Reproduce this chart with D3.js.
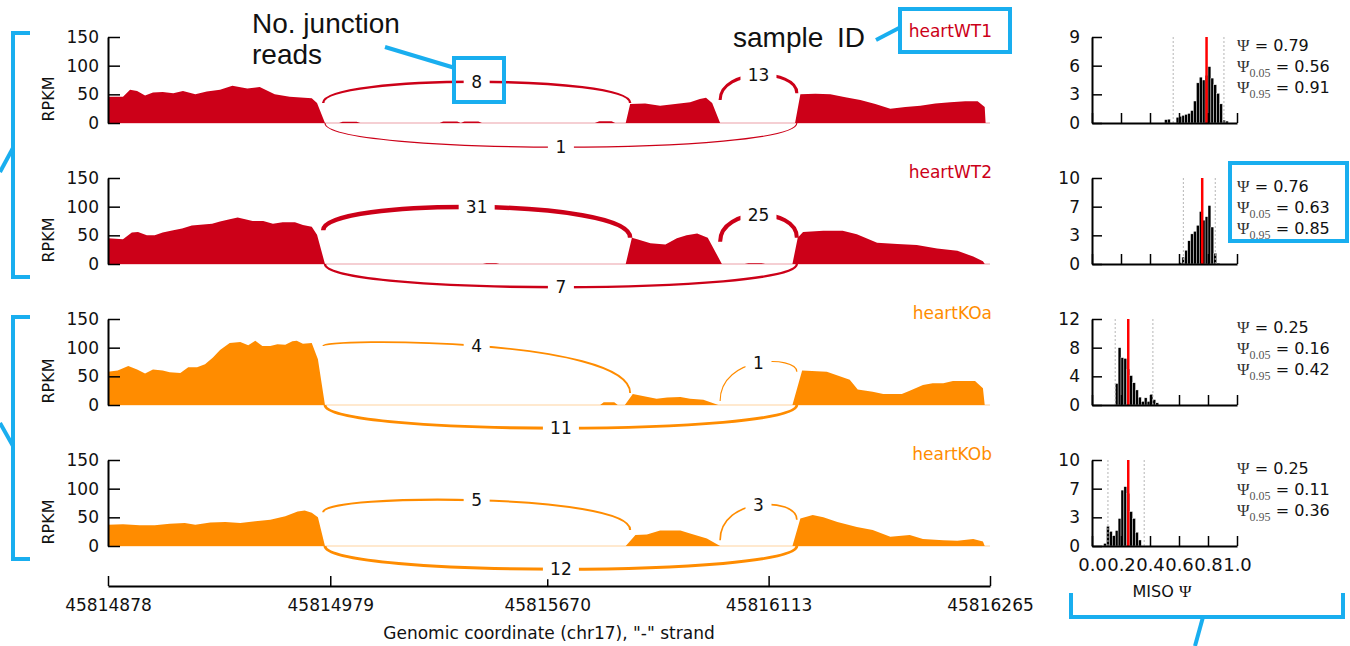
<!DOCTYPE html>
<html>
<head>
<meta charset="utf-8">
<script src="https://cdnjs.cloudflare.com/ajax/libs/d3/7.8.5/d3.min.js"></script>
<style>
body { margin: 0; background: #fff; }
svg { display: block; font-family: "DejaVu Sans", sans-serif; }
</style>
</head>
<body>
<svg id="chart" width="1350" height="646"></svg>
<script>
// sashimi plot: coverage + junction arcs per sample, MISO psi histograms on the right

const samples = ["heartWT1", "heartWT2", "heartKOa", "heartKOb"]
const sampleColours = ["#cc0018", "#cc0018", "#ff8c00", "#ff8c00"]

// x is a compressed plot coordinate (0..1000), labels are genomic coordinates
const xTickPos = [0, 252, 498, 749, 1000]
const xTickLabels = ["45814878", "45814979", "45815670", "45816113", "45816265"]
const rpkmTicks = [0, 50, 100, 150]

// coverage [position, RPKM]
const covWT1 = [[0,46],[17,46],[25,58],[33,56],[42,48],[51,53],[62,54],[74,52],[85,56],[99,50],[112,55],[127,58],[141,65],[158,60],[172,63],[189,50],[206,46],[231,43],[237,35],[246,0],
  [262,0],[266,2],[282,2],[286,0],[376,0],[380,2.5],[396,2.5],[400,0],[404,2.5],[420,2.5],[424,0],[552,0],[557,3],[571,3],[575,0],
  [587,0],[592,33],[609,34],[626,30],[643,33],[660,36],[671,42],[678,44],[685,35],[694,0],
  [779,0],[785,50],[802,51],[819,50],[836,45],[853,40],[870,33],[887,25],[904,28],[921,30],[938,34],[955,36],[972,38],[986,38],[994,28],[995,0],[1000,0]]
const covWT2 = [[0,45],[17,43],[27,55],[34,56],[44,50],[53,50],[62,55],[74,59],[84,62],[95,67],[108,69],[118,70],[127,74],[138,78],[147,81],[164,75],[176,75],[187,70],[198,73],[212,73],[221,68],[231,65],[237,51],[246,0],
  [425,0],[429,1.5],[440,1.5],[444,0],
  [587,0],[594,46],[600,43],[615,36],[632,34],[645,45],[656,50],[668,53],[680,46],[696,0],[722,0],[726,1.5],[741,1.5],[745,0],
  [776,0],[782,46],[788,56],[811,58],[833,58],[849,52],[872,37],[895,35],[917,33],[940,27],[963,23],[981,13],[992,5],[994,0],[1000,0]]
const covKOa = [[0,58],[11,60],[23,68],[33,62],[42,55],[51,62],[62,60],[70,57],[82,56],[91,66],[101,66],[110,71],[119,83],[127,96],[138,108],[150,110],[159,104],[167,112],[175,103],[184,103],[192,106],[201,105],[209,111],[214,112],[221,107],[231,108],[238,80],[246,0],
  [558,0],[562,5],[574,5],[578,0],
  [586,0],[595,19],[622,11],[634,13],[649,14],[660,11],[675,9],[692,0],
  [776,0],[787,60],[815,58],[828,51],[841,44],[850,27],[867,23],[879,19],[900,19],[909,25],[924,35],[935,38],[947,38],[958,42],[983,42],[992,29],[994,0],[1000,0]]
const covKOb = [[0,37],[17,38],[36,36],[53,36],[70,39],[87,40],[99,37],[116,41],[133,42],[150,40],[167,43],[184,46],[201,52],[215,60],[223,62],[231,58],[238,50],[246,0],
  [587,0],[598,19],[611,20],[626,27],[649,27],[660,22],[679,13],[694,0],
  [776,0],[785,48],[799,54],[811,50],[827,42],[849,33],[867,28],[887,16],[909,19],[924,12],[947,10],[963,9],[981,12],[992,8],[994,0],[1000,0]]

// junction arcs [from, to, left RPKM, right RPKM, control RPKM, reads]
const arcsWT1 = [[244,592,35,35,84,8],[694,781,40,52,96,13],[246,781,0,0,-56,1]]
const arcsWT2 = [[244,592,59,46,115,31],[694,781,39,46,100,25],[246,781,0,0,-54,7]]
const arcsKOa = [[244,592,103,21,117,4],[694,781,7,58,87,1],[246,781,0,0,-54,11]]
const arcsKOb = [[244,592,59,28,92,5],[694,781,10,46,86,3],[246,781,0,0,-54,12]]

// MISO posterior
const psiMean = [0.79, 0.76, 0.25, 0.25]
const psiLow = [0.56, 0.63, 0.16, 0.11]
const psiHigh = [0.91, 0.85, 0.42, 0.36]
const histMax = [9, 10, 12, 10]
const histStart = [0.50, 0.60, 0.16, 0.08]
const binWidth = 0.02
const histWT1 = [0.35,0.4,0,0,0.6,0.7,0.8,0.9,1.0,1.3,2.3,4.2,4.8,4.5,5.0,5.9,4.7,4.0,3.1,2.0,0.3,0.2]
const histWT2 = [0.15,0.8,1.6,2.7,3.5,3.8,4.5,6.1,5.1,5.5,6.8,4.3,1.25,0.1]
const histKOa = [3.0,8.0,6.6,6.5,5.0,4.1,3.1,2.1,1.1,0.5,1.0,0.5,1.5,0.75,0.3]
const histKOb = [0.3,2.3,1.7,1.2,1.8,3.2,6.5,6.9,6.1,4.0,3.2,1.6,0.7]
const psiTicks = [0, 0.2, 0.4, 0.6, 0.8, 1.0]

const coverage = [covWT1, covWT2, covKOa, covKOb]
const arcs = [arcsWT1, arcsWT2, arcsKOa, arcsKOb]
const hists = [histWT1, histWT2, histKOa, histKOb]

const svg = d3.select("#chart")
const x = d3.scaleLinear().domain([0, 1000]).range([108, 990])
const hx = d3.scaleLinear().domain([0, 1]).range([1092, 1237])
const lineW = d3.scaleSqrt().domain([0, 31]).range([0.4, 4.5])

function styleAxis(g, size) {
    g.attr("font-family", "DejaVu Sans").attr("font-size", size)
    g.select(".domain").attr("stroke", "#000").attr("stroke-width", 2)
    g.selectAll(".tick line").attr("stroke", "#000").attr("stroke-width", 1.5)
    g.selectAll(".tick text").attr("fill", "#111")
}

// genomic axis (drawn first so junction labels sit on top)
const gx = svg.append("g").attr("transform", "translate(0,586)")
    .call(d3.axisBottom(x).tickValues(xTickPos).tickFormat((d, i) => xTickLabels[i])
        .tickSizeInner(-10).tickSizeOuter(0).tickPadding(13))
styleAxis(gx, 17)
svg.append("text").attr("x", 549).attr("y", 639).attr("text-anchor", "middle")
    .attr("font-size", 17).attr("fill", "#111")
    .text('Genomic coordinate (chr17), "-" strand')

samples.forEach((name, i) => {
    const top = 37 + 141 * i
    const base = top + 86
    const col = sampleColours[i]
    const y = d3.scaleLinear().domain([0, 150]).range([base, top])
    const g = svg.append("g")

    g.append("line").attr("x1", x(0)).attr("x2", x(1000)).attr("y1", base).attr("y2", base)
        .attr("stroke", col).attr("stroke-opacity", 0.25).attr("stroke-width", 1.5)

    g.append("path").datum(coverage[i])
        .attr("d", d3.area().x(d => x(d[0])).y0(base).y1(d => y(d[1])))
        .attr("fill", col)

    // arcs
    arcs[i].forEach(a => {
        const [s, e, l, r, c, n] = a
        const p = d3.path()
        p.moveTo(x(s), y(l))
        p.bezierCurveTo(x(s), y(c), x(e), y(c), x(e), y(r))
        g.append("path").attr("d", p.toString()).attr("fill", "none")
            .attr("stroke", col).attr("stroke-width", lineW(n))
    })
    arcs[i].forEach(a => {
        const [s, e, l, r, c, n] = a
        const mx = (x(s) + x(e)) / 2
        const my = (y(l) + 6 * y(c) + y(r)) / 8
        const w = String(n).length * 10 + 16
        g.append("rect").attr("x", mx - w / 2).attr("y", my - 10).attr("width", w).attr("height", 20)
            .attr("fill", "#fff")
        g.append("text").attr("x", mx).attr("y", my).attr("dy", "0.36em")
            .attr("text-anchor", "middle").attr("font-size", 17).attr("fill", "#111").text(n)
    })

    // RPKM axis
    const gy = g.append("g").attr("transform", `translate(${x(0)},0)`)
        .call(d3.axisLeft(y).tickValues(rpkmTicks).tickSizeInner(-12).tickSizeOuter(0).tickPadding(9))
    styleAxis(gy, 17)
    g.append("text").attr("transform", `translate(54,${base - 24}) rotate(-90)`)
        .attr("text-anchor", "middle").attr("font-size", 16).attr("fill", "#111").text("RPKM")

    g.append("text").attr("x", 992).attr("y", top).attr("text-anchor", "end")
        .attr("font-size", 17).attr("fill", col).text(name)

    // psi histogram
    const hy = d3.scaleLinear().domain([0, histMax[i]]).range([base, top])
    g.selectAll("rect.bar").data(hists[i]).join("rect").attr("class", "bar")
        .attr("x", (d, k) => hx(histStart[i] + k * binWidth))
        .attr("width", hx(binWidth) - hx(0))
        .attr("y", d => hy(d))
        .attr("height", d => base - hy(d))
        .attr("fill", "#000").attr("stroke", "#fff").attr("stroke-width", 0.4)

    ;[psiLow[i], psiHigh[i]].forEach(v => {
        g.append("line").attr("x1", hx(v)).attr("x2", hx(v)).attr("y1", base).attr("y2", top)
            .attr("stroke", "#b5b5b5").attr("stroke-width", 1).attr("stroke-dasharray", "2,2")
    })
    g.append("line").attr("x1", hx(psiMean[i])).attr("x2", hx(psiMean[i])).attr("y1", base + 1).attr("y2", top)
        .attr("stroke", "#ff0000").attr("stroke-width", 2.5)

    const hyTicks = d3.range(4).map(k => histMax[i] * k / 3)
    const ghy = g.append("g").attr("transform", `translate(${hx(0)},0)`)
        .call(d3.axisLeft(hy).tickValues(hyTicks).tickFormat(d3.format(".0f"))
            .tickSizeInner(-10).tickSizeOuter(0).tickPadding(12))
    styleAxis(ghy, 17)
    const ghx = g.append("g").attr("transform", `translate(0,${base})`)
        .call(d3.axisBottom(hx).tickValues(psiTicks)
            .tickFormat(i === 3 ? d3.format(".1f") : () => "")
            .tickSizeInner(-10).tickSizeOuter(0).tickPadding(12))
    styleAxis(ghx, 18)

    // psi summary text
    const rows = [["", psiMean[i]], ["0.05", psiLow[i]], ["0.95", psiHigh[i]]]
    rows.forEach((row, k) => {
        const t = g.append("text").attr("x", 1237).attr("y", top + 14 + 21 * k)
            .attr("font-size", 16).attr("fill", "#111")
        t.append("tspan").attr("font-family", "Liberation Serif, serif").attr("font-size", 17)
            .attr("fill", "#333").text("Ψ")
        if (row[0]) {
            t.append("tspan").attr("font-family", "Liberation Serif, serif").attr("font-size", 12)
                .attr("fill", "#555").attr("dy", 5).text(row[0])
            t.append("tspan").attr("dy", -5).text(" = " + row[1].toFixed(2))
        } else {
            t.append("tspan").text(" = " + row[1].toFixed(2))
        }
    })
})

const miso = svg.append("text").attr("x", 1162).attr("y", 597).attr("text-anchor", "middle")
    .attr("font-size", 16).attr("fill", "#111")
miso.append("tspan").text("MISO ")
miso.append("tspan").attr("font-family", "Liberation Serif, serif").attr("font-size", 17).text("Ψ")

// call-out annotations
const blue = "#19aeef"
const ann = svg.append("g").attr("fill", "none").attr("stroke", blue).attr("stroke-width", 4)
ann.append("path").attr("d", "M30,33H13V277H30")
ann.append("path").attr("d", "M0,172L13,148")
ann.append("path").attr("d", "M30,317H13V559H30")
ann.append("path").attr("d", "M0,423L13,446")
ann.append("rect").attr("x", 454).attr("y", 58).attr("width", 50).attr("height", 44)
ann.append("path").attr("d", "M385,47L455,68")
ann.append("rect").attr("x", 900).attr("y", 9).attr("width", 110).attr("height", 43)
ann.append("path").attr("d", "M876,40L899,28")
ann.append("rect").attr("x", 1230).attr("y", 163).attr("width", 117).attr("height", 78)
ann.append("path").attr("d", "M1071,593V617H1343V593")
ann.append("path").attr("d", "M1203,617L1195,646")

const note = svg.append("g").attr("font-family", "Liberation Sans, Arial, sans-serif")
    .attr("font-size", 28).attr("fill", "#111")
note.append("text").attr("x", 252).attr("y", 33).text("No. junction")
note.append("text").attr("x", 252).attr("y", 64).text("reads")
note.append("text").attr("x", 733).attr("y", 47).attr("word-spacing", 6).text("sample ID")
</script>
</body>
</html>
